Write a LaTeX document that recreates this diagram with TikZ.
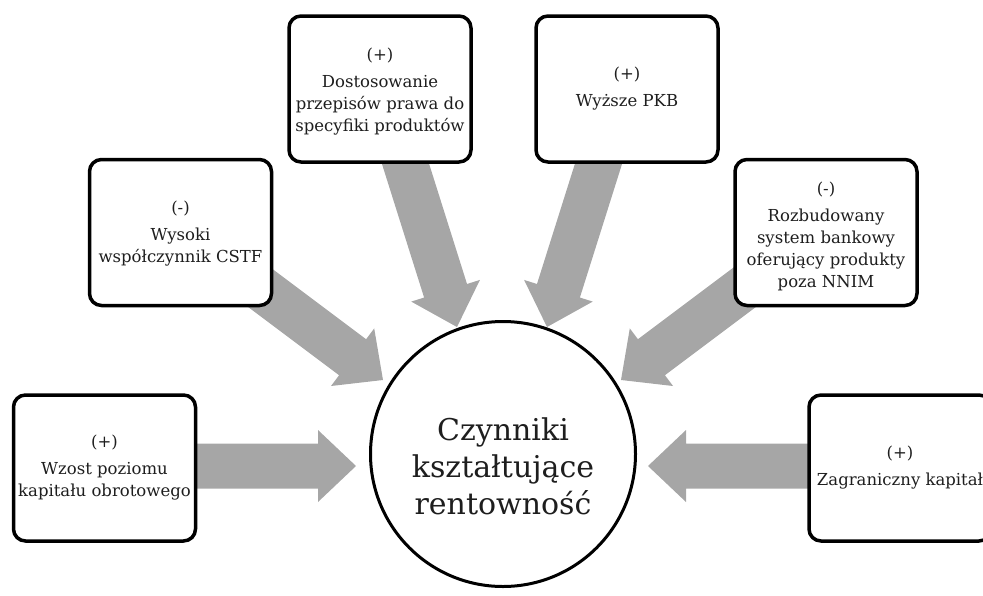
\documentclass[tikz,border=0pt]{standalone}
\usepackage{fontspec}
\setmainfont{DejaVu Serif}
\usetikzlibrary{calc}
\definecolor{arrowgray}{RGB}{166,166,166}
\definecolor{txt}{RGB}{30,30,30}
\newcommand\blockarrow[2]{%
  \path coordinate (H) at ($(#2)!38pt!(#1)$);
  \fill[arrowgray]
    ($(#1)!22.5pt!90:(#2)$) -- ($(H)!22.5pt!90:(#2)$) -- ($(H)!36pt!90:(#2)$) -- (#2)
    -- ($(H)!36pt!-90:(#2)$) -- ($(H)!22.5pt!-90:(#2)$) -- ($(#1)!22.5pt!-90:(#2)$) -- cycle;
}
\begin{document}
\begin{tikzpicture}[x=1pt,y=-1pt,
  box/.style={draw=black, line width=3.5pt, rounded corners=12pt, fill=white,
              minimum width=182pt, minimum height=146pt, inner sep=0pt},
  boxtext/.style={align=center, font=\fontsize{16.5}{22}\selectfont, text=txt},
  hub/.style={circle, draw=black, line width=3pt, fill=white, minimum size=265pt, inner sep=0pt},
  hubtext/.style={align=center, font=\fontsize{30}{37}\selectfont, text=txt}]
\useasboundingbox (0,0) rectangle (983,595);
\clip (0,0) rectangle (983,595);
% arrow anchors
\coordinate (s1) at (150,466);  \coordinate (t1) at (356,466);
\coordinate (s2) at (231,266);  \coordinate (t2) at (383,380);
\coordinate (s3) at (398,140);  \coordinate (t3) at (457,327);
\coordinate (s4) at (606,140);  \coordinate (t4) at (547,327);
\coordinate (s5) at (773,266);  \coordinate (t5) at (621,380);
\coordinate (s6) at (850,466);  \coordinate (t6) at (648,466);
\blockarrow{s1}{t1}
\blockarrow{s2}{t2}
\blockarrow{s3}{t3}
\blockarrow{s4}{t4}
\blockarrow{s5}{t5}
\blockarrow{s6}{t6}
% boxes
\node[box] (b1) at (104.5,468) {};
\node[box] (b2) at (180.5,232.5) {};
\node[box] (b3) at (380,89) {};
\node[box] (b4) at (627,89) {};
\node[box] (b5) at (826,232.5) {};
\node[box] (b6) at (900,468) {};
\node[boxtext] (l1) at (b1) {(+)\\[5pt]Wzost poziomu\\kapitału obrotowego};
\node[boxtext] (l2) at ($(b2)+(0,1)$) {(-)\\[5pt]Wysoki\\współczynnik CSTF};
\node[boxtext] (l3) at ($(b3)+(0,3)$) {(+)\\[5pt]Dostosowanie\\przepisów prawa do\\specyfiki produktów};
\node[boxtext] (l4) at (b4) {(+)\\[5pt]Wyższe PKB};
\node[boxtext] (l5) at ($(b5)+(0,4)$) {(-)\\[5pt]Rozbudowany\\system bankowy\\oferujący produkty\\poza NNIM};
\node[boxtext] (l6) at (b6) {(+)\\[5pt]Zagraniczny kapitał};
% hub
\node[hub] (hub) at (503,454) {};
\node[hubtext] (hubl) at (503,466) {Czynniki\\kształtujące\\rentowność};
\end{tikzpicture}
\end{document}
